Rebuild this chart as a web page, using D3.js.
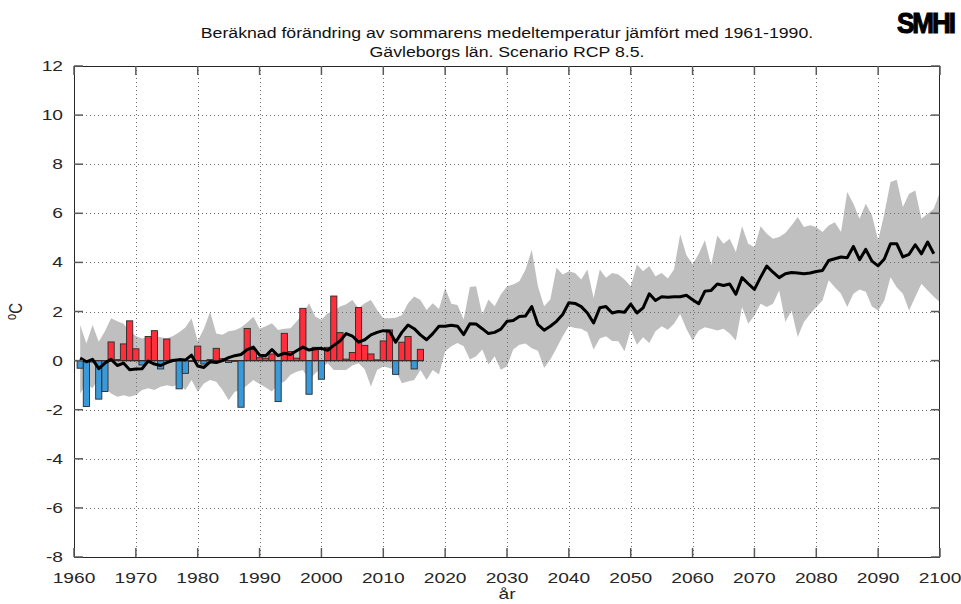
<!DOCTYPE html>
<html>
<head>
<meta charset="utf-8">
<script src="https://cdn.jsdelivr.net/npm/d3@7"></script>
<style>
  body { margin: 0; background: #fff; }
  svg { display: block; }
  text { font-family: "Liberation Sans", Arial, sans-serif; fill: #262626; }
</style>
</head>
<body>
<svg id="chart" width="961" height="604"></svg>
<script>
// observed summer anomalies 1961-2016 (bars)
var obsYears = d3.range(1961, 2017);
var obsValues = [
  -0.31, -1.87, -0.06, -1.57, -1.26, 0.76, 0.04, 0.68, 1.62, 0.48,
  -0.18, 0.98, 1.22, -0.34, 0.88, 0.05, -1.15, -0.52, -0.04, 0.59,
  -0.14, 0.04, 0.50, 0.08, -0.08, -0.03, -1.90, 1.31, 0.45, 0.12,
  0.10, 0.27, -1.67, 1.11, 0.37, 0.10, 2.13, -1.37, 0.54, -0.76,
  0.54, 2.63, 1.14, 0.06, 0.33, 2.16, 0.62, 0.27, 0.03, 0.80,
  1.25, -0.56, 0.75, 0.98, -0.34, 0.46
];

// scenario ensemble, one value per year from 1961
var scenYears = d3.range(1961, 2101);
var medianValues = [
  0.10, -0.05, 0.05, -0.33, -0.10, 0.05, -0.20, -0.10, -0.37, -0.34,
  -0.33, -0.02, -0.14, -0.20, -0.08, 0.00, 0.04, 0.02, 0.22, -0.22,
  -0.28, -0.05, -0.08, 0.00, 0.12, 0.20, 0.25, 0.45, 0.55, 0.22,
  0.20, 0.45, 0.20, 0.30, 0.25, 0.40, 0.55, 0.43, 0.48, 0.50,
  0.42, 0.62, 0.80, 1.10, 1.00, 0.75, 0.85, 1.05, 1.15, 1.22,
  1.20, 0.75, 1.15, 1.45, 1.30, 1.05, 0.85, 1.10, 1.40, 1.40,
  1.44, 1.40, 1.06, 1.50, 1.49, 1.30, 1.10, 1.15, 1.28, 1.60,
  1.63, 1.80, 1.82, 2.20, 1.47, 1.24, 1.40, 1.60, 1.88, 2.36,
  2.33, 2.20, 1.94, 1.53, 2.15, 2.20, 1.94, 2.00, 1.97, 2.30,
  1.94, 2.15, 2.72, 2.45, 2.60, 2.58, 2.60, 2.60, 2.66, 2.48,
  2.32, 2.83, 2.86, 3.12, 3.06, 3.12, 2.70, 3.38, 3.13, 2.90,
  3.40, 3.85, 3.60, 3.38, 3.54, 3.59, 3.57, 3.54, 3.57, 3.63,
  3.67, 4.08, 4.15, 4.22, 4.19, 4.65, 4.11, 4.53, 4.05, 3.86,
  4.14, 4.76, 4.76, 4.22, 4.33, 4.72, 4.35, 4.83, 4.35
];
var upperValues = [
  1.45, 0.70, 1.45, 0.77, 1.20, 1.72, 1.60, 1.50, 1.20, 1.00,
  0.90, 0.95, 1.00, 0.95, 0.90, 1.00, 1.15, 1.35, 1.72, 0.80,
  1.30, 1.99, 1.10, 1.05, 1.20, 1.24, 1.35, 1.55, 1.79, 1.30,
  1.40, 1.52, 1.25, 1.30, 1.32, 1.60, 1.90, 2.34, 1.80, 1.66,
  1.93, 2.00, 2.20, 2.30, 2.47, 2.13, 2.34, 2.47, 2.06, 1.72,
  1.72, 1.75, 1.85, 2.34, 2.61, 2.47, 2.06, 2.34, 2.10, 2.96,
  2.32, 2.26, 1.67, 3.00, 3.03, 1.88, 2.49, 2.21, 2.69, 3.03,
  3.10, 3.23, 3.71, 4.52, 3.03, 2.21, 2.49, 3.78, 3.51, 3.64,
  3.57, 3.30, 3.71, 2.55, 3.71, 3.37, 3.57, 3.51, 3.30, 3.03,
  3.91, 3.64, 3.85, 3.44, 3.57, 3.34, 3.71, 5.15, 4.30, 3.92,
  4.35, 4.90, 3.88, 5.10, 4.76, 4.96, 4.42, 5.47, 4.76, 4.62,
  5.47, 5.17, 4.96, 5.03, 5.20, 5.50, 5.85, 5.44, 5.51, 5.44,
  5.24, 5.50, 5.64, 5.24, 6.87, 6.39, 5.78, 6.39, 5.92, 4.90,
  5.98, 7.27, 7.37, 6.26, 6.80, 6.93, 5.78, 5.98, 6.19, 6.87
];
var lowerValues = [
  -1.34, -0.93, -1.13, -0.70, -1.10, -1.34, -1.47, -1.41, -1.47, -1.40,
  -1.20, -1.13, -1.20, -1.07, -1.00, -1.05, -0.93, -1.20, -0.79, -1.27,
  -0.93, -0.79, -0.86, -1.20, -1.61, -1.27, -1.20, -1.00, -0.79, -0.95,
  -1.10, -1.26, -0.95, -0.86, -0.58, -0.45, -0.38, -0.79, -0.52, -0.30,
  -0.11, -0.38, -0.38, -0.38, -0.20, -0.11, -0.35, -1.06, -0.38, -0.24,
  -0.30, -0.38, -0.92, -0.85, -0.79, -0.38, -0.79, -0.38, -0.57, 0.38,
  0.58, 0.72, 0.58, 0.04, 0.18, 0.45, -0.16, 0.18, -0.37, -0.23,
  0.45, 0.65, 0.70, 0.50, 0.40, -0.30, 0.04, 0.50, 0.99, 1.40,
  1.33, 1.30, 1.15, 0.45, 0.90, 0.99, 0.80, 0.79, 0.38, 1.26,
  0.65, 0.95, 0.72, 1.20, 1.40, 1.26, 1.50, 1.90, 1.30, 0.82,
  1.23, 1.36, 1.30, 1.23, 1.30, 1.10, 0.82, 2.18, 1.50, 1.84,
  2.32, 2.18, 2.32, 2.86, 1.57, 2.04, 0.96, 1.57, 1.90, 2.18,
  2.45, 3.27, 2.99, 2.72, 2.18, 2.72, 2.90, 2.80, 2.20, 2.04,
  2.45, 3.40, 2.99, 2.72, 2.04, 2.59, 3.13, 2.86, 2.60, 2.38
];

var xTicks = d3.range(1960, 2101, 10);
var yTicks = [-8, -6, -4, -2, 0, 2, 4, 6, 8, 10, 12];

var titleLines = [
  "Beräknad förändring av sommarens medeltemperatur jämfört med 1961-1990.",
  "Gävleborgs län. Scenario RCP 8.5."
];

var plotL = 74, plotR = 940, plotT = 66, plotB = 557;
var stretch = 1.28; // the reference text is drawn wide

var svg = d3.select('#chart');
svg.append('rect').attr('width', 961).attr('height', 604).attr('fill', '#fff');

var x = d3.scaleLinear().domain([1960, 2100]).range([plotL, plotR]);
var y = d3.scaleLinear().domain([-8, 12]).range([plotB, plotT]);

// ensemble spread
var band = scenYears.map(function(yr, i){ return {year: yr, lo: lowerValues[i], hi: upperValues[i]}; });
svg.append('path')
  .datum(band)
  .attr('fill', '#bfbfbf')
  .attr('d', d3.area().x(function(d){ return x(d.year); })
    .y0(function(d){ return y(d.lo); }).y1(function(d){ return y(d.hi); }));

// dotted grid
var grid = svg.append('g').attr('stroke', '#6e6e6e').attr('stroke-dasharray', '1,3').attr('stroke-width', 1);
xTicks.slice(1, -1).forEach(function(t){
  grid.append('line').attr('x1', Math.round(x(t)) + 0.5).attr('x2', Math.round(x(t)) + 0.5)
    .attr('y1', plotT).attr('y2', plotB);
});
yTicks.slice(1, -1).forEach(function(t){
  grid.append('line').attr('y1', Math.round(y(t)) + 0.5).attr('y2', Math.round(y(t)) + 0.5)
    .attr('x1', plotL).attr('x2', plotR);
});

// observed bars
var bw = x(1961) - x(1960);
svg.append('g').selectAll('rect')
  .data(obsYears.map(function(yr, i){ return {year: yr, v: obsValues[i]}; }))
  .enter().append('rect')
  .attr('x', function(d){ return x(d.year) - bw/2; })
  .attr('width', bw)
  .attr('y', function(d){ return y(Math.max(0, d.v)); })
  .attr('height', function(d){ return Math.abs(y(d.v) - y(0)); })
  .attr('fill', function(d){ return d.v >= 0 ? '#ff2e3a' : '#3a9ad9'; })
  .attr('stroke', '#2a2a2a').attr('stroke-width', 0.9);

// bar baseline
svg.append('line')
  .attr('x1', plotL).attr('x2', x(2016.5))
  .attr('y1', y(0)).attr('y2', y(0))
  .attr('stroke', '#3a2a2a').attr('stroke-width', 1.2);

// ensemble median
svg.append('path')
  .datum(scenYears.slice(0, medianValues.length).map(function(yr, i){ return [yr, medianValues[i]]; }))
  .attr('fill', 'none').attr('stroke', '#000').attr('stroke-width', 3)
  .attr('stroke-linejoin', 'round')
  .attr('d', d3.line().x(function(d){ return x(d[0]); }).y(function(d){ return y(d[1]); }));

// box and ticks
svg.append('rect').attr('x', plotL + 0.5).attr('y', plotT + 0.5)
  .attr('width', plotR - plotL - 1).attr('height', plotB - plotT)
  .attr('fill', 'none').attr('stroke', '#262626').attr('stroke-width', 1);

var tl = 9;
var ticks = svg.append('g').attr('stroke', '#5a5a5a').attr('stroke-width', 1.5);
xTicks.forEach(function(t){
  ticks.append('line').attr('x1', x(t)).attr('x2', x(t)).attr('y1', plotB).attr('y2', plotB - tl);
  ticks.append('line').attr('x1', x(t)).attr('x2', x(t)).attr('y1', plotT).attr('y2', plotT + tl);
});
yTicks.forEach(function(t){
  ticks.append('line').attr('x1', plotL).attr('x2', plotL + tl).attr('y1', y(t)).attr('y2', y(t));
  ticks.append('line').attr('x1', plotR).attr('x2', plotR - tl).attr('y1', y(t)).attr('y2', y(t));
});

// tick labels
svg.append('g').selectAll('text').data(xTicks).enter().append('text')
  .attr('transform', function(d){ return 'translate(' + x(d) + ',' + (plotB + 26) + ') scale(' + stretch + ',1)'; })
  .attr('text-anchor', 'middle').attr('font-size', 15).text(function(d){ return d; });
svg.append('g').selectAll('text').data(yTicks).enter().append('text')
  .attr('transform', function(d){ return 'translate(' + (plotL - 11) + ',' + (y(d) + 5) + ') scale(' + stretch + ',1)'; })
  .attr('text-anchor', 'end').attr('font-size', 15).text(function(d){ return d; });

// axis labels
svg.append('text').attr('transform', 'translate(' + ((plotL + plotR)/2) + ',599) scale(' + stretch + ',1)')
  .attr('text-anchor', 'middle').attr('font-size', 15).text('år');
var yl = svg.append('text').attr('transform', 'translate(22,' + ((plotT + plotB)/2) + ') rotate(-90) scale(1,' + stretch + ')')
  .attr('text-anchor', 'middle').attr('font-size', 15);
yl.append('tspan').attr('font-size', 11).attr('dy', -5).text('o');
yl.append('tspan').attr('dy', 5).text('C');

// title
svg.append('g').selectAll('text').data(titleLines).enter().append('text')
  .attr('transform', function(d, i){ return 'translate(507,' + (38 + i*19) + ') scale(1.18,1)'; })
  .attr('text-anchor', 'middle').attr('font-size', 15).attr('fill', '#000')
  .style('fill', '#111')
  .text(function(d){ return d; });

// logo in the corner
svg.append('text').attr('transform', 'translate(897,33) scale(1,1.12)')
  .attr('font-family', '"DejaVu Sans Condensed", "DejaVu Sans", sans-serif')
  .attr('font-weight', 'bold').attr('font-size', 26).attr('letter-spacing', -2)
  .style('fill', '#000').attr('stroke', '#000').attr('stroke-width', 1)
  .text('SMHI');
</script>
</body>
</html>
